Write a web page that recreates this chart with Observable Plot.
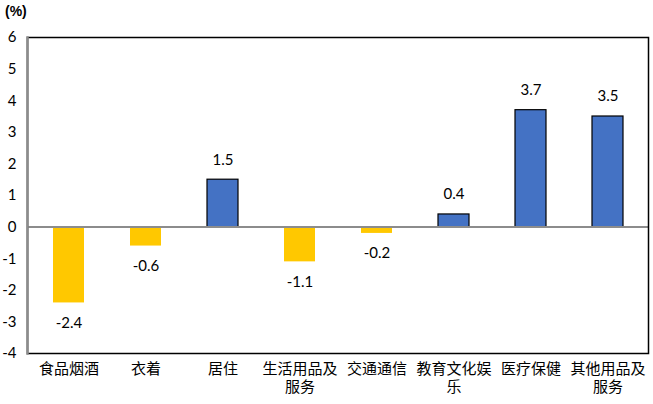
<!DOCTYPE html>
<html><head><meta charset="utf-8">
<script src="https://cdn.jsdelivr.net/npm/d3@7"></script>
<script src="https://cdn.jsdelivr.net/npm/@observablehq/plot@0.6"></script>
<style>
body{margin:0;background:#fff;}
#wrap{position:relative;width:653px;height:404px;}
#unit{position:absolute;left:5px;top:3px;font:bold 14px "Liberation Sans","Noto Sans",sans-serif;color:#000;}
</style></head>
<body><div id="wrap"><div id="unit">(%)</div></div>
<script>
const categories = ["食品烟酒","衣着","居住","生活用品及服务","交通通信","教育文化娱乐","医疗保健","其他用品及服务"];
const tickLabels = ["食品烟酒","衣着","居住","生活用品及\n服务","交通通信","教育文化娱\n乐","医疗保健","其他用品及\n服务"];
const values = [-2.4,-0.6,1.5,-1.1,-0.2,0.4,3.7,3.5];
const yTicks = [-4,-3,-2,-1,0,1,2,3,4,5,6];

const data = categories.map((c,i)=>({cat:c, v:values[i]}));
const labelOf = new Map(categories.map((c,i)=>[c,tickLabels[i]]));
const pos = data.filter(d=>d.v>=0), neg = data.filter(d=>d.v<0);
const numFont = "Lato,'Liberation Sans',sans-serif";

const chart = Plot.plot({
  width:653, height:404,
  marginTop:37, marginBottom:51, marginLeft:27, marginRight:5,
  style:{fontFamily:"'Noto Sans CJK SC','Liberation Sans',sans-serif", fontSize:"14px", color:"#000", background:"#fff"},
  x:{domain:categories, paddingInner:0.6, paddingOuter:0.3, label:null},
  y:{domain:[-4,6], label:null},
  marks:[
    Plot.axisX({tickSize:0, tickPadding:8, fontSize:15, lineHeight:1.2, tickFormat:d=>labelOf.get(d), label:null}),
    Plot.axisY({ticks:yTicks, tickSize:0, tickPadding:11, fontSize:15, fontFamily:numFont, tickFormat:d=>String(d), label:null}),
    Plot.barY(neg,{x:"cat", y:"v", fill:"#FFC800"}),
    Plot.barY(pos,{x:"cat", y:"v", fill:"#4472C4", stroke:"#000", strokeWidth:1.2}),
    Plot.ruleY([0],{stroke:"#8c8c8c", strokeWidth:2}),
    Plot.text(pos,{x:"cat", y:"v", text:d=>d.v.toFixed(1), dy:-20, fontSize:15, fontFamily:numFont}),
    Plot.text(neg,{x:"cat", y:"v", text:d=>d.v.toFixed(1), dy:20, fontSize:15, fontFamily:numFont}),
    Plot.frame({stroke:"#000", strokeWidth:1.5}),
    Plot.frame({anchor:"left", stroke:"#8c8c8c", strokeWidth:2.5})
  ]
});
document.getElementById("wrap").appendChild(chart);
</script></body></html>
